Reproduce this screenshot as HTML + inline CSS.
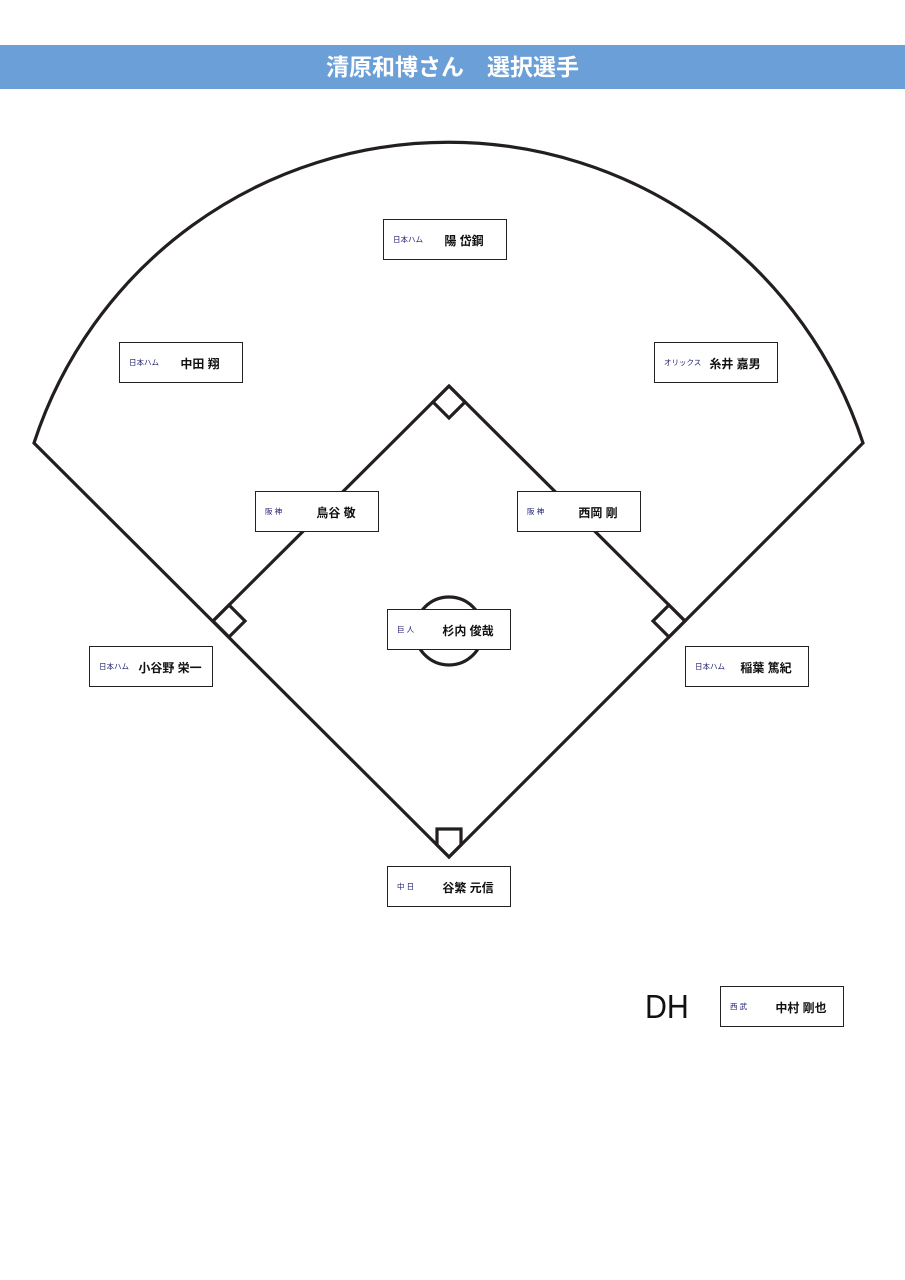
<!DOCTYPE html>
<html><head><meta charset="utf-8"><style>
body{margin:0;width:905px;height:1280px;background:#fff;position:relative;overflow:hidden;font-family:"Liberation Sans","Noto Sans CJK JP",sans-serif}
.ban{position:absolute;left:0;top:45px;width:905px;height:44px;background:#6a9fd8;color:#fff;font-weight:bold;font-size:23px;line-height:44px;text-align:center}
.b{position:absolute;width:122px;height:39px;border:1.5px solid #222;background:#fff}
.t{position:absolute;left:9px;top:14px;font-size:7.5px;color:#1a1a6e;white-space:nowrap}
.n{position:absolute;left:38px;right:0;top:12px;font-size:12px;font-weight:bold;color:#111;text-align:center;white-space:nowrap}
</style></head><body>
<div class="ban">清原和博さん　選択選手</div>
<svg width="905" height="1280" style="position:absolute;left:0;top:0">
<g fill="none" stroke="#231f1e" stroke-width="3.2">
<path d="M34 443 A436 436 0 0 1 863 443 L449 857 Z"/>
<path d="M449 386 L685 621 M449 386 L213 621"/>
<path d="M449 386 L465 402 L449 418 L433 402 Z"/>
<path d="M213 621 L229 605 L245 621 L229 637 Z"/>
<path d="M685 621 L669 605 L653 621 L669 637 Z"/>
<path d="M437 829 L461 829 L461 845 L449 857 L437 845 Z"/>
<circle cx="449" cy="631" r="34"/>
</g></svg>
<div class="b" style="left:383px;top:219px"><span class="t">日本ハム</span><span class="n">陽 岱鋼</span></div>
<div class="b" style="left:119px;top:342px"><span class="t">日本ハム</span><span class="n">中田 翔</span></div>
<div class="b" style="left:654px;top:342px"><span class="t">オリックス</span><span class="n">糸井 嘉男</span></div>
<div class="b" style="left:255px;top:491px"><span class="t">阪 神</span><span class="n">鳥谷 敬</span></div>
<div class="b" style="left:517px;top:491px"><span class="t">阪 神</span><span class="n">西岡 剛</span></div>
<div class="b" style="left:387px;top:609px"><span class="t">巨 人</span><span class="n">杉内 俊哉</span></div>
<div class="b" style="left:89px;top:646px"><span class="t">日本ハム</span><span class="n">小谷野 栄一</span></div>
<div class="b" style="left:685px;top:646px"><span class="t">日本ハム</span><span class="n">稲葉 篤紀</span></div>
<div class="b" style="left:387px;top:866px"><span class="t">中 日</span><span class="n">谷繁 元信</span></div>
<div class="b" style="left:720px;top:986px"><span class="t">西 武</span><span class="n">中村 剛也</span></div>
<div style="position:absolute;left:645px;top:988px;font-size:33px;color:#111;transform:scaleX(0.92);transform-origin:left">DH</div>
</body></html>
